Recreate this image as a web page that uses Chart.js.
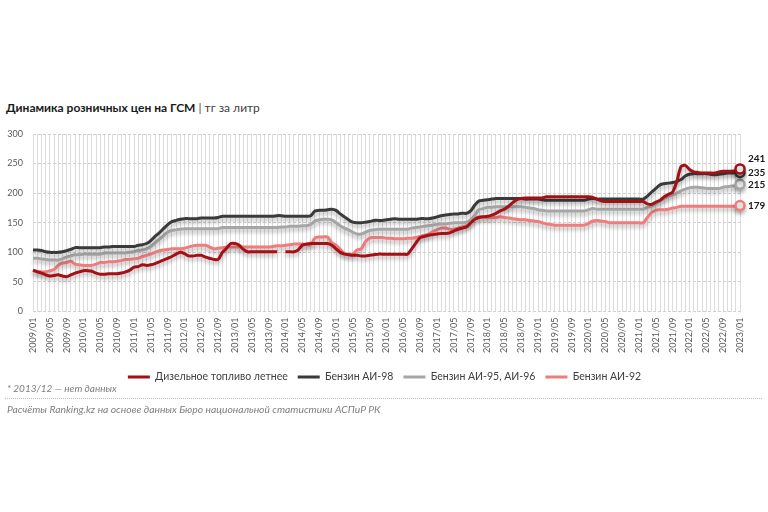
<!DOCTYPE html>
<html>
<head>
<meta charset="utf-8">
<script src="https://cdn.jsdelivr.net/npm/chart.js@4.4.0/dist/chart.umd.min.js"></script>
<style>
  body { margin: 0; width: 768px; height: 512px; background: #fff; position: relative; overflow: hidden; font-family: Lato, "Open Sans", sans-serif; }
  #titulo { position: absolute; left: 6px; top: 100px; font-size: 12px; color: #404040; white-space: nowrap; }
  #titulo b { color: #1a1a1a; }
  #caixa { position: absolute; left: 0; top: 118px; width: 768px; height: 274.25px; }
  #nota { position: absolute; left: 7px; top: 382px; font-size: 10px; font-style: italic; color: #7f7f7f; z-index: 2; }
  #linha { position: absolute; left: 5px; right: 6px; top: 398px; border-top: 1px dotted #bfbfbf; }
  #fonte { position: absolute; left: 7px; top: 403px; font-size: 10.3px; font-style: italic; color: #7f7f7f; z-index: 2; }
</style>
</head>
<body>
<div id="titulo"><b>Динамика розничных цен на ГСМ</b> | тг за литр</div>
<div id="caixa"><canvas id="grafico"></canvas></div>
<div id="nota">* 2013/12 — нет данных</div>
<div id="linha"></div>
<div id="fonte">Расчёты Ranking.kz на основе данных Бюро национальной статистики АСПиР РК</div>
<script>
// месяцы 2009/01 ... 2023/01
const meses = [];
for (let a = 2009; a <= 2023; a++) {
  for (let m = 1; m <= 12; m++) {
    if (a === 2023 && m > 1) break;
    meses.push(a + '/' + String(m).padStart(2, '0'));
  }
}

const nomes = ['Дизельное топливо летнее', 'Бензин АИ-98', 'Бензин АИ-95, АИ-96', 'Бензин АИ-92'];
const cores = ['#a50f15', '#3a3a3a', '#a6a6a6', '#f07c7c'];
const yTicks = [0, 50, 100, 150, 200, 250, 300];

const dizel = [
  70, 67, 65, 62, 60, 61, 62, 60, 59, 62, 65, 67,
  69, 69, 68, 65, 63, 63, 64, 64, 64, 65, 67, 70,
  75, 76, 79, 78, 79, 81, 84, 87, 90, 93, 97, 100,
  98, 94, 94, 95, 95, 92, 90, 88, 88, 100, 107, 115,
  115, 112, 105, 101, 101, 101, 101, 101, 101, 101, 101, null,
  101, 101, 101, 104, 112, 114, 115, 115, 115, 115, 115, 112,
  106, 100, 97, 96, 95, 95, 94, 94, 95, 96, 97, 97,
  97, 97, 97, 97, 97, 97, 106, 116, 125, 127, 129, 130,
  131, 132, 132, 133, 136, 139, 141, 143, 150, 156, 159, 160,
  161, 163, 166, 170, 173, 178, 184, 189, 191, 192, 192, 192,
  192, 192, 194, 194, 194, 194, 194, 194, 194, 194, 194, 194,
  194, 193, 190, 187, 186, 186, 186, 186, 186, 186, 186, 186,
  186, 186, 182, 181, 185, 188, 194, 198, 202, 220, 245, 247,
  240, 236, 235, 234, 234, 234, 234, 236, 237, 237, 237, 238,
  241
];
const ai98 = [
  104, 104, 103, 101, 100, 100, 100, 101, 103, 105, 108, 108,
  108, 108, 108, 108, 108, 109, 109, 110, 110, 110, 110, 110,
  110, 112, 113, 115, 120, 127, 133, 140, 147, 152, 154, 156,
  157, 157, 157, 157, 158, 158, 158, 158, 159, 161, 161, 161,
  161, 161, 161, 161, 161, 161, 161, 161, 161, 161, 162, 162,
  161, 161, 161, 161, 161, 161, 162, 170, 171, 171, 172, 173,
  171, 165, 160, 155, 151, 150, 150, 151, 152, 154, 154, 154,
  155, 156, 157, 156, 156, 156, 156, 156, 157, 157, 157, 158,
  160, 162, 163, 164, 165, 165, 166, 166, 170, 180, 187, 188,
  189, 190, 191, 191, 191, 191, 191, 191, 191, 190, 190, 190,
  190, 189, 188, 188, 188, 188, 188, 188, 188, 188, 188, 188,
  190, 191, 190, 190, 190, 190, 190, 190, 190, 190, 190, 190,
  190, 190, 195, 202, 208, 214, 216, 217, 218, 220, 223, 229,
  232, 233, 233, 233, 233, 232, 231, 232, 233, 234, 234, 235,
  235
];
const ai95 = [
  90, 90, 89, 88, 87, 87, 87, 89, 92, 94, 96, 96,
  97, 97, 97, 97, 97, 99, 99, 99, 99, 99, 99, 100,
  101, 103, 104, 106, 110, 116, 122, 128, 134, 137, 138, 139,
  140, 140, 140, 140, 140, 140, 140, 140, 140, 142, 142, 142,
  142, 142, 142, 142, 142, 142, 142, 142, 142, 142, 142, 143,
  143, 144, 144, 144, 145, 145, 147, 153, 155, 156, 156, 155,
  150, 145, 141, 138, 134, 131, 131, 134, 137, 138, 139, 139,
  139, 139, 139, 139, 139, 139, 141, 142, 143, 144, 145, 146,
  147, 148, 148, 149, 150, 150, 150, 151, 155, 163, 172, 174,
  176, 176, 177, 177, 177, 177, 177, 177, 177, 176, 175, 174,
  172, 171, 170, 170, 170, 170, 170, 170, 170, 170, 170, 170,
  172, 174, 173, 173, 173, 173, 173, 173, 173, 173, 173, 173,
  173, 173, 176, 178, 182, 187, 191, 195, 197, 200, 204, 207,
  209, 210, 210, 209, 208, 208, 208, 208, 210, 211, 212, 213,
  215
];
const ai92 = [
  69, 68, 67, 67, 69, 71, 78, 82, 83, 85, 80, 79,
  78, 78, 78, 80, 83, 83, 84, 84, 85, 86, 88, 88,
  89, 90, 93, 95, 97, 100, 103, 104, 105, 106, 106, 106,
  107, 109, 111, 112, 112, 112, 109, 106, 107, 108, 109, 109,
  109, 109, 109, 109, 109, 109, 109, 109, 109, 110, 111, 111,
  112, 113, 114, 114, 114, 113, 113, 124, 126, 126, 126, 116,
  112, 105, 98, 97, 97, 104, 106, 118, 124, 125, 125, 125,
  124, 124, 123, 123, 123, 124, 124, 125, 127, 129, 131, 135,
  138, 141, 141, 139, 139, 141, 143, 145, 150, 157, 160, 160,
  159, 159, 159, 160, 159, 158, 157, 156, 155, 155, 154, 153,
  152, 150, 148, 147, 146, 146, 146, 146, 146, 146, 146, 146,
  149, 153, 154, 153, 152, 150, 150, 150, 150, 150, 150, 150,
  150, 150, 159, 167, 171, 172, 172, 173, 175, 176, 178, 178,
  178, 178, 178, 178, 178, 178, 178, 178, 178, 178, 178, 178,
  179
];

const series = [dizel, ai98, ai95, ai92];
const deslocRotulo = [-10, 0, 0, 0];

// тень под линиями
const sombra = {
  id: 'sombra',
  beforeDatasetDraw(chart) {
    const c = chart.ctx;
    c.save();
    c.shadowColor = 'rgba(0,0,0,0.28)';
    c.shadowBlur = 4;
    c.shadowOffsetY = 3;
  },
  afterDatasetDraw(chart) {
    chart.ctx.restore();
  }
};

// легенда чуть правее центра, как в оригинале
const sdvigLegendy = {
  id: 'sdvigLegendy',
  afterLayout(chart) {
    chart.legend.left += 13;
    chart.legend.right += 13;
  }
};

// подписи последних значений
const rotulosFinais = {
  id: 'rotulosFinais',
  afterDatasetsDraw(chart) {
    const ctx = chart.ctx;
    ctx.save();
    ctx.font = 'bold 10px Lato';
    ctx.fillStyle = '#1a1a1a';
    ctx.textBaseline = 'middle';
    chart.data.datasets.forEach((ds, i) => {
      const meta = chart.getDatasetMeta(i);
      const pt = meta.data[meta.data.length - 1];
      const v = ds.data[ds.data.length - 1];
      ctx.fillText(v, pt.x + 8, pt.y + deslocRotulo[i]);
    });
    ctx.restore();
  }
};

Chart.defaults.font.family = 'Lato';
Chart.defaults.color = '#595959';

const ctx = document.getElementById('grafico').getContext('2d');
new Chart(ctx, {
  type: 'line',
  data: {
    labels: meses,
    datasets: series.map((s, i) => ({
      label: nomes[i],
      data: s,
      borderColor: cores[i],
      backgroundColor: cores[i],
      borderWidth: 3,
      tension: 0.3,
      spanGaps: false,
      pointRadius: s.map((_, k) => k === s.length - 1 ? 4.5 : 0),
      pointBackgroundColor: '#fff',
      pointBorderColor: cores[i],
      pointBorderWidth: 2.5
    }))
  },
  options: {
    responsive: true,
    maintainAspectRatio: false,
    animation: false,
    devicePixelRatio: 1,
    layout: { padding: { top: 16, right: 28, left: 3, bottom: 0 } },
    plugins: {
      legend: {
        position: 'bottom',
        labels: {
          boxWidth: 22,
          boxHeight: 3,
          padding: 10,
          color: '#404040',
          font: { size: 10.5 },
          generateLabels(chart) {
            return chart.data.datasets.map((ds, i) => ({
              text: ds.label,
              fillStyle: ds.borderColor,
              strokeStyle: ds.borderColor,
              lineWidth: 0,
              fontColor: '#404040',
              datasetIndex: i
            }));
          }
        }
      },
      tooltip: { enabled: false }
    },
    scales: {
      x: {
        afterFit(scale) { scale.height = 50.25; },
        grid: { color: '#dcdcdc', lineWidth: 1, drawTicks: false },
        border: { display: false },
        ticks: {
          autoSkip: false,
          maxRotation: 90,
          minRotation: 90,
          padding: 6,
          font: { size: 9 },
          callback: function(value, index) {
            return index % 4 === 0 ? meses[index] : '';
          }
        }
      },
      y: {
        min: 0,
        max: 300,
        afterBuildTicks(scale) { scale.ticks = yTicks.map(v => ({ value: v })); },
        afterFit(scale) { scale.width = 30; },
        grid: { color: '#d0d0d0', drawTicks: false },
        border: { display: false, dash: [3, 2] },
        ticks: { padding: 10, font: { size: 9 } }
      }
    }
  },
  plugins: [sombra, sdvigLegendy, rotulosFinais]
});
</script>
</body>
</html>
